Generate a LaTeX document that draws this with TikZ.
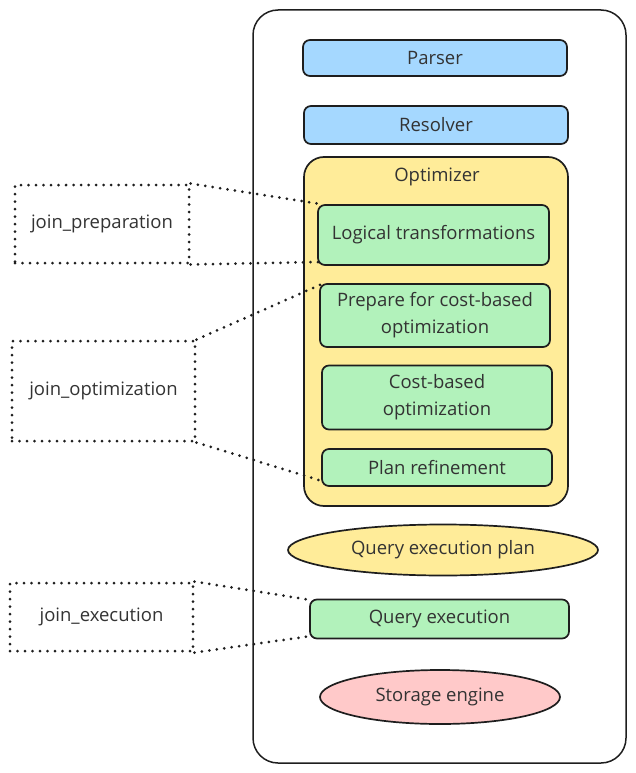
\documentclass[tikz,border=0pt]{standalone}
\usepackage{fontspec}
\setmainfont{Open Sans}
\usetikzlibrary{shapes.geometric}
\definecolor{txt}{HTML}{333333}
\definecolor{blu}{HTML}{A5D8FF}
\definecolor{yel}{HTML}{FFEC99}
\definecolor{grn}{HTML}{B2F2BB}
\definecolor{pnk}{HTML}{FFC9C9}
\definecolor{ln}{HTML}{1E1E1E}
\begin{document}
\begin{tikzpicture}[x=1pt,y=-1pt,
  fnt/.style={font=\fontsize{18.5}{27}\selectfont,text=txt},
  box/.style={fnt,draw=ln,line width=1.7pt,rounded corners=7pt,align=center,inner sep=0pt},
  ell/.style={fnt,ellipse,draw=ln,line width=1.7pt,inner sep=0pt},
  dl/.style={draw=ln,line width=3pt,line cap=round,dash pattern=on 0pt off 7.5pt},
  tag/.style={fnt,dl,inner sep=0pt}]
\useasboundingbox (0,0) rectangle (635,773);
\node[draw=ln,line width=1.5pt,rounded corners=25pt,minimum width=373pt,minimum height=753pt] (outer) at (439.5,386.5) {};
\node[box,fill=blu,minimum width=264pt,minimum height=36pt] (parser) at (435,58) {Parser};
\node[box,fill=blu,minimum width=264pt,minimum height=38pt] (resolver) at (436,125) {Resolver};
\node[box,fill=yel,rounded corners=20pt,minimum width=264pt,minimum height=349pt] (opt) at (436,331.5) {};
\node[fnt] (optl) at (437,177) {Optimizer};
\node[box,fill=grn,minimum width=231pt,minimum height=60pt] (logic) at (433.5,235) {Logical transformations};
\node[box,fill=grn,minimum width=230pt,minimum height=63pt] (prep) at (435,315.5) {Prepare for cost-based\\optimization};
\node[box,fill=grn,minimum width=230pt,minimum height=64pt] (cbo) at (437,397.5) {Cost-based\\optimization};
\node[box,fill=grn,minimum width=230pt,minimum height=37pt] (refine) at (437,467.5) {Plan refinement};
\node[ell,fill=yel,minimum width=310pt,minimum height=51pt] (qep) at (443,550) {Query execution plan};
\node[box,fill=grn,minimum width=259pt,minimum height=39pt] (qe) at (439.5,619) {Query execution};
\node[ell,fill=pnk,minimum width=240pt,minimum height=54pt] (se) at (440,697) {Storage engine};
\node[tag,minimum width=174pt,minimum height=78pt] (jp) at (102,224) {join\_preparation};
\node[tag,minimum width=183pt,minimum height=100pt] (jo) at (103.5,391) {join\_optimization};
\node[tag,minimum width=183pt,minimum height=68pt] (je) at (101.5,617) {join\_execution};
\coordinate (lt) at (320,204);
\coordinate (lb) at (320,262);
\coordinate (pt) at (322,284);
\coordinate (rb) at (322,481);
\coordinate (qt) at (311,600);
\coordinate (qb) at (311,636);
\draw[dl] (jp.north east) -- (lt);
\draw[dl] (jp.south east) -- (lb);
\draw[dl] (jo.north east) -- (pt);
\draw[dl] (jo.south east) -- (rb);
\draw[dl] (je.north east) -- (qt);
\draw[dl] (je.south east) -- (qb);
\end{tikzpicture}
\end{document}
